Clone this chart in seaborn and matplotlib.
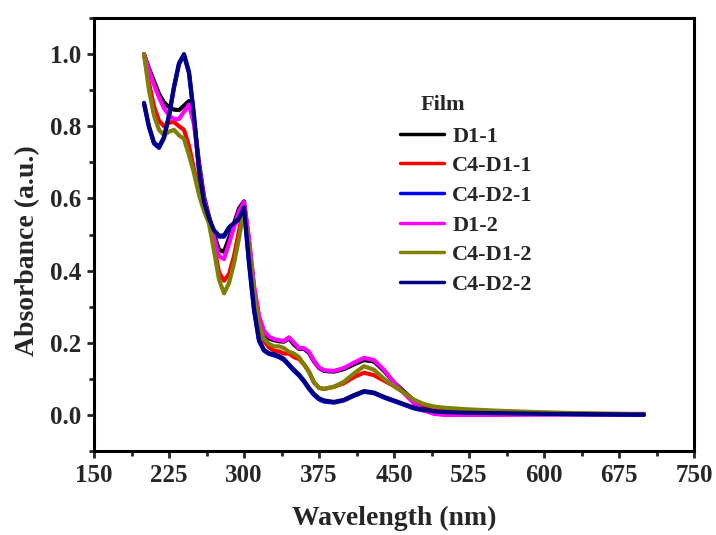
import numpy as np
import pandas as pd
import matplotlib
matplotlib.use("Agg")
import matplotlib.pyplot as plt
import seaborn as sns
from matplotlib.ticker import MultipleLocator
from matplotlib.lines import Line2D

wavelength = [200, 205, 210, 215, 220, 225, 230, 235, 240, 245, 250, 255, 260, 265, 270,
              275, 280, 285, 290, 295, 300, 305, 310, 315, 320, 325, 330, 335, 340, 345,
              350, 355, 360, 365, 370, 375, 380, 390, 400, 410, 420, 430, 440, 450, 460,
              470, 480, 490, 500, 520, 550, 600, 650, 700]

d1_1 = [1.00, 0.96, 0.925, 0.89, 0.866, 0.853, 0.846, 0.845, 0.857, 0.87, 0.815, 0.70, 0.605, 0.55, 0.50,
        0.458, 0.452, 0.49, 0.53, 0.572, 0.592, 0.48, 0.35, 0.27, 0.228, 0.212, 0.207, 0.204, 0.203, 0.212,
        0.195, 0.183, 0.183, 0.172, 0.148, 0.13, 0.122, 0.12, 0.127, 0.14, 0.152, 0.148, 0.122, 0.09, 0.065,
        0.04, 0.022, 0.012, 0.007, 0.005, 0.004, 0.003, 0.002, 0.002]

c4_d1_1 = [1.00, 0.92, 0.855, 0.815, 0.80, 0.81, 0.812, 0.80, 0.79, 0.745, 0.68, 0.62, 0.575, 0.545, 0.47,
           0.395, 0.372, 0.39, 0.44, 0.51, 0.578, 0.47, 0.34, 0.245, 0.205, 0.187, 0.178, 0.176, 0.17, 0.17,
           0.16, 0.155, 0.14, 0.12, 0.09, 0.075, 0.072, 0.078, 0.088, 0.105, 0.117, 0.11, 0.095, 0.08, 0.062,
           0.04, 0.028, 0.021, 0.018, 0.014, 0.01, 0.006, 0.003, 0.002]

c4_d2_1 = [0.862, 0.797, 0.752, 0.74, 0.767, 0.827, 0.907, 0.972, 0.997, 0.947, 0.827, 0.677, 0.587, 0.542, 0.509,
           0.494, 0.494, 0.517, 0.529, 0.542, 0.572, 0.42, 0.29, 0.205, 0.178, 0.169, 0.165, 0.16, 0.152, 0.137,
           0.122, 0.109, 0.092, 0.072, 0.055, 0.043, 0.037, 0.034, 0.04, 0.053, 0.064, 0.06, 0.048, 0.038, 0.028,
           0.018, 0.012, 0.008, 0.006, 0.004, 0.003, 0.002, 0.001, 0.0]

d1_2 = [1.00, 0.955, 0.915, 0.88, 0.85, 0.83, 0.82, 0.82, 0.84, 0.86, 0.805, 0.69, 0.60, 0.545, 0.49,
        0.44, 0.432, 0.475, 0.52, 0.565, 0.59, 0.49, 0.36, 0.275, 0.233, 0.217, 0.21, 0.207, 0.205, 0.215,
        0.20, 0.185, 0.185, 0.175, 0.15, 0.132, 0.124, 0.122, 0.13, 0.145, 0.158, 0.152, 0.125, 0.09, 0.06,
        0.032, 0.012, 0.003, 0.0, 0.0, 0.0, 0.001, 0.002, 0.003]

c4_d1_2 = [1.00, 0.90, 0.83, 0.79, 0.775, 0.785, 0.79, 0.775, 0.765, 0.72, 0.67, 0.61, 0.565, 0.53, 0.455,
           0.375, 0.337, 0.365, 0.42, 0.49, 0.57, 0.47, 0.34, 0.25, 0.21, 0.197, 0.19, 0.19, 0.185, 0.175,
           0.17, 0.16, 0.14, 0.118, 0.09, 0.075, 0.072, 0.078, 0.092, 0.115, 0.135, 0.125, 0.10, 0.08, 0.062,
           0.042, 0.03, 0.023, 0.02, 0.016, 0.012, 0.007, 0.004, 0.002]

c4_d2_2 = [0.865, 0.80, 0.755, 0.743, 0.77, 0.83, 0.91, 0.975, 1.00, 0.95, 0.83, 0.68, 0.59, 0.545, 0.512,
           0.497, 0.497, 0.52, 0.532, 0.545, 0.575, 0.425, 0.295, 0.208, 0.18, 0.171, 0.168, 0.163, 0.155, 0.14,
           0.125, 0.112, 0.095, 0.075, 0.058, 0.046, 0.04, 0.036, 0.042, 0.055, 0.066, 0.062, 0.05, 0.04, 0.03,
           0.02, 0.014, 0.01, 0.008, 0.006, 0.005, 0.003, 0.002, 0.001]

series_names = ["D1-1", "C4-D1-1", "C4-D2-1", "D1-2", "C4-D1-2", "C4-D2-2"]
series_values = [d1_1, c4_d1_1, c4_d2_1, d1_2, c4_d1_2, c4_d2_2]
colors = ["#000000", "#FF0000", "#0000FF", "#FF00FF", "#808000", "#000080"]
x_ticks = [150, 225, 300, 375, 450, 525, 600, 675, 750]
y_ticks = [0.0, 0.2, 0.4, 0.6, 0.8, 1.0]

df = pd.concat([pd.DataFrame({"Wavelength": wavelength, "Absorbance": v, "Film": n})
                for n, v in zip(series_names, series_values)], ignore_index=True)

sns.set_style("ticks")
plt.rcParams["font.family"] = ["Liberation Serif", "DejaVu Serif"]
plt.rcParams["font.weight"] = "bold"

fig = plt.figure(figsize=(7.16, 5.35), dpi=100)
ax = fig.add_axes([94 / 716, 1 - 451 / 535, 600 / 716, 433 / 535])

sns.lineplot(data=df, x="Wavelength", y="Absorbance", hue="Film", hue_order=series_names,
             palette=dict(zip(series_names, colors)), linewidth=3.0, legend=False, ax=ax,
             sort=False)

ax.set_xlim(150, 750)
ax.set_ylim(-0.1, 1.1)
ax.set_xticks(x_ticks)
ax.set_yticks(y_ticks)
ax.set_xticklabels([str(t) for t in x_ticks])
ax.set_yticklabels([f"{t:.1f}" for t in y_ticks])
ax.xaxis.set_minor_locator(MultipleLocator(37.5))
ax.yaxis.set_minor_locator(MultipleLocator(0.1))
ax.tick_params(which="major", direction="out", length=5, width=2, labelsize=18, pad=4,
               top=False, right=False)
ax.tick_params(which="minor", direction="out", length=3.5, width=2, top=False, right=False)
for s in ax.spines.values():
    s.set_linewidth(2.2)
    s.set_visible(True)
    s.set_color("black")

ax.set_xlabel("Wavelength (nm)", fontsize=20, fontweight="bold", labelpad=10)
ax.set_ylabel("Absorbance (a.u.)", fontsize=20, fontweight="bold")
ax.yaxis.set_label_coords((28 - 94) / 600, (451 - 251) / 433)
ax.xaxis.set_label_coords(0.5, -(518 - 451) / 433)
ax.xaxis.label.set_va("center")
ax.yaxis.label.set_va("center")

handles = [Line2D([0], [0], color=c, lw=2.5) for c in colors]
leg = ax.legend(handles, series_names, loc="upper left",
                bbox_to_anchor=(400 / 716, 1 - 126 / 535), bbox_transform=fig.transFigure,
                frameon=False, handlelength=2.0, handletextpad=0.35,
                labelspacing=0.41, borderpad=0, borderaxespad=0,
                prop={"weight": "bold", "size": 16})
fig.text(421 / 716, 1 - 105 / 535, "Film", fontsize=16, fontweight="bold", va="center", ha="left")

fig.savefig("out.png", dpi=100)
